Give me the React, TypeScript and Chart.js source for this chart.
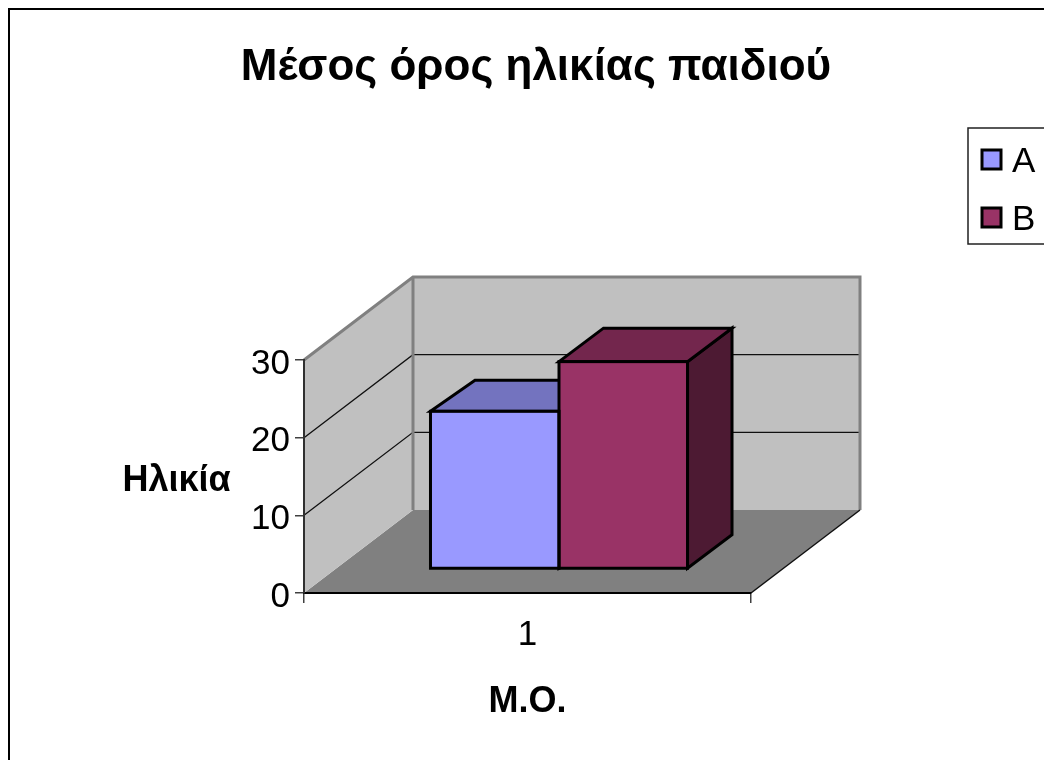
import React, { useEffect, useRef } from "react";
import { Chart, registerables } from "chart.js";

Chart.register(...registerables);

const categories = ["1"];
const seriesNames = ["A", "B"];
const seriesA = [20.3];
const seriesB = [26.7];
const seriesColors = ["#9999FF", "#993366"];
const topColors = ["#7373BF", "#73264D"];
const sideColors = ["#4D4D80", "#4D1A33"];
const chartTitle = "Μέσος όρος ηλικίας παιδιού";
const xTitle = "Μ.Ο.";
const yTitle = "Ηλικία";
const FONT = "'Liberation Sans', Arial, sans-serif";

// Oblique projection of the plot box and of the columns standing in it.
const WALL_DX = 109;
const WALL_DY = -83;
const BAR_SHIFT_X = 31.5;
const BAR_SHIFT_Y = -24;
const BAR_DEPTH_X = 44.5;
const BAR_DEPTH_Y = [-31, -33.5];

function poly(ctx: CanvasRenderingContext2D, pts: number[][]) {
  ctx.beginPath();
  pts.forEach(([x, y], i) => (i ? ctx.lineTo(x, y) : ctx.moveTo(x, y)));
  ctx.closePath();
}

const frame3d = {
  id: "frame3d",
  afterLayout(chart: any) {
    // Centre the title over the whole frame rather than the plot.
    chart.titleBlock.left = 28;
    chart.titleBlock.right = 1044;
  },
  beforeDraw(chart: any) {
    const { ctx, scales } = chart;
    const { x: xs, y: ys } = scales;
    const l = xs.left;
    const r = xs.right;
    const y0 = ys.getPixelForValue(0);
    const yMax = ys.getPixelForValue(ys.max);
    ctx.save();
    ctx.fillStyle = "#fff";
    ctx.fillRect(0, 0, chart.width, chart.height);
    ctx.strokeStyle = "#000";
    ctx.lineWidth = 2;
    ctx.strokeRect(9, 9, 1200, 1000);

    // Floor
    ctx.fillStyle = "#808080";
    poly(ctx, [[l, y0], [r, y0], [r + WALL_DX, y0 + WALL_DY], [l + WALL_DX, y0 + WALL_DY]]);
    ctx.fill();
    // Side and back walls
    ctx.fillStyle = "#C0C0C0";
    poly(ctx, [[l, y0], [l + WALL_DX, y0 + WALL_DY], [l + WALL_DX, yMax + WALL_DY], [l, yMax]]);
    ctx.fill();
    ctx.fillRect(l + WALL_DX, yMax + WALL_DY, r - l, y0 - yMax);

    // Gridlines run along the side wall, then across the back wall.
    ctx.strokeStyle = "#101010";
    ctx.lineWidth = 1.3;
    ys.ticks.forEach((t: any) => {
      if (t.value <= 0 || t.value >= ys.max) return;
      const py = ys.getPixelForValue(t.value);
      ctx.beginPath();
      ctx.moveTo(l, py);
      ctx.lineTo(l + WALL_DX, py + WALL_DY);
      ctx.lineTo(r + WALL_DX, py + WALL_DY);
      ctx.stroke();
    });

    // Wall edges
    ctx.strokeStyle = "#808080";
    ctx.lineWidth = 3;
    ctx.beginPath();
    ctx.moveTo(l, yMax);
    ctx.lineTo(l + WALL_DX, yMax + WALL_DY);
    ctx.lineTo(r + WALL_DX, yMax + WALL_DY);
    ctx.lineTo(r + WALL_DX, y0 + WALL_DY);
    ctx.moveTo(l + WALL_DX, yMax + WALL_DY);
    ctx.lineTo(l + WALL_DX, y0 + WALL_DY);
    ctx.stroke();

    // Front edge of the floor on the right
    ctx.strokeStyle = "#101010";
    ctx.lineWidth = 1.5;
    ctx.beginPath();
    ctx.moveTo(r, y0);
    ctx.lineTo(r + WALL_DX, y0 + WALL_DY);
    ctx.stroke();
    ctx.restore();
  },
  beforeDatasetsDraw(chart: any) {
    const { ctx } = chart;
    ctx.save();
    ctx.lineWidth = 3;
    ctx.strokeStyle = "#000";
    ctx.lineJoin = "miter";
    chart.data.datasets.forEach((_: any, i: number) => {
      const bar = chart.getDatasetMeta(i).data[0];
      const left = bar.x - bar.width / 2 + BAR_SHIFT_X;
      const right = bar.x + bar.width / 2 + BAR_SHIFT_X;
      const top = bar.y + BAR_SHIFT_Y;
      const bottom = bar.base + BAR_SHIFT_Y;
      const dy = BAR_DEPTH_Y[i];
      ctx.fillStyle = sideColors[i];
      poly(ctx, [[right, top], [right + BAR_DEPTH_X, top + dy], [right + BAR_DEPTH_X, bottom + dy], [right, bottom]]);
      ctx.fill();
      ctx.stroke();
      ctx.fillStyle = topColors[i];
      poly(ctx, [[left, top], [left + BAR_DEPTH_X, top + dy], [right + BAR_DEPTH_X, top + dy], [right, top]]);
      ctx.fill();
      ctx.stroke();
    });
    ctx.restore();
    // Columns stand part way back on the floor.
    ctx.save();
    ctx.translate(BAR_SHIFT_X, BAR_SHIFT_Y);
  },
  afterDatasetsDraw(chart: any) {
    const { ctx } = chart;
    ctx.restore();
    ctx.save();
    ctx.lineWidth = 3;
    ctx.strokeStyle = "#000";
    chart.data.datasets.forEach((_: any, i: number) => {
      const bar = chart.getDatasetMeta(i).data[0];
      ctx.strokeRect(bar.x - bar.width / 2 + BAR_SHIFT_X, bar.y + BAR_SHIFT_Y, bar.width, bar.base - bar.y);
    });
    ctx.restore();
  },
  afterDraw(chart: any) {
    const { ctx } = chart;
    ctx.save();
    // Horizontal value-axis title
    ctx.fillStyle = "#000";
    ctx.font = `bold 36px ${FONT}`;
    ctx.textAlign = "center";
    ctx.textBaseline = "middle";
    ctx.fillText(yTitle, 176.5, 481);

    // Legend box, running off the right edge
    ctx.fillStyle = "#fff";
    ctx.fillRect(968, 128, 100, 116);
    ctx.strokeStyle = "#202020";
    ctx.lineWidth = 1.5;
    ctx.strokeRect(968, 128, 100, 116);
    ctx.font = `35px ${FONT}`;
    ctx.textAlign = "left";
    seriesNames.forEach((name, i) => {
      const cy = 160 + i * 58;
      ctx.fillStyle = seriesColors[i];
      ctx.fillRect(982, cy - 10, 19, 19);
      ctx.strokeStyle = "#000";
      ctx.lineWidth = 3;
      ctx.strokeRect(982, cy - 10, 19, 19);
      ctx.fillStyle = "#000";
      ctx.fillText(name, 1012, cy + 2);
    });
    ctx.restore();
  },
};

export default function App() {
  const ref = useRef<HTMLCanvasElement>(null);
  useEffect(() => {
    const chart = new Chart(ref.current as HTMLCanvasElement, {
      type: "bar",
      data: {
        labels: categories,
        datasets: [
          { label: seriesNames[0], data: seriesA, backgroundColor: seriesColors[0], borderWidth: 0 },
          { label: seriesNames[1], data: seriesB, backgroundColor: seriesColors[1], borderWidth: 0 },
        ],
      },
      plugins: [frame3d],
      options: {
        responsive: false,
        animation: false,
        clip: false,
        layout: { padding: { left: 0, right: 293, top: 0, bottom: 0 } },
        datasets: { bar: { categoryPercentage: 0.575, barPercentage: 1 } },
        plugins: {
          legend: { display: false },
          tooltip: { enabled: false },
          title: {
            display: true,
            text: chartTitle,
            color: "#000",
            font: { family: FONT, size: 44, weight: "bold", lineHeight: 1.2 },
            padding: { top: 41.6, bottom: 265.6 },
          },
        },
        scales: {
          x: {
            grid: { drawOnChartArea: false, drawTicks: true, tickLength: 10, color: "#404040", lineWidth: 1.5 },
            border: { display: true, color: "#000", width: 2 },
            ticks: { color: "#000", font: { family: FONT, size: 35 }, padding: 11, maxRotation: 0 },
            title: {
              display: true,
              text: xTitle,
              color: "#000",
              font: { family: FONT, size: 36, weight: "bold", lineHeight: 1.2 },
              padding: { top: 0, bottom: 36 },
            },
            afterFit(axis: any) {
              axis.height = 167;
            },
          },
          y: {
            min: 0,
            max: 30,
            ticks: { stepSize: 10, color: "#000", font: { family: FONT, size: 35 }, padding: 5, labelOffset: 4 },
            grid: { drawOnChartArea: false, drawTicks: true, tickLength: 9, color: "#404040", lineWidth: 1.5 },
            border: { display: true, color: "#303030", width: 2 },
            afterFit(axis: any) {
              axis.width = 304;
            },
          },
        },
      },
    } as any);
    return () => chart.destroy();
  }, []);
  return (
    <div style={{ position: "fixed", left: 0, top: 0, width: 1044, height: 760 }}>
      <canvas ref={ref} width={1044} height={760} style={{ display: "block" }} />
    </div>
  );
}
